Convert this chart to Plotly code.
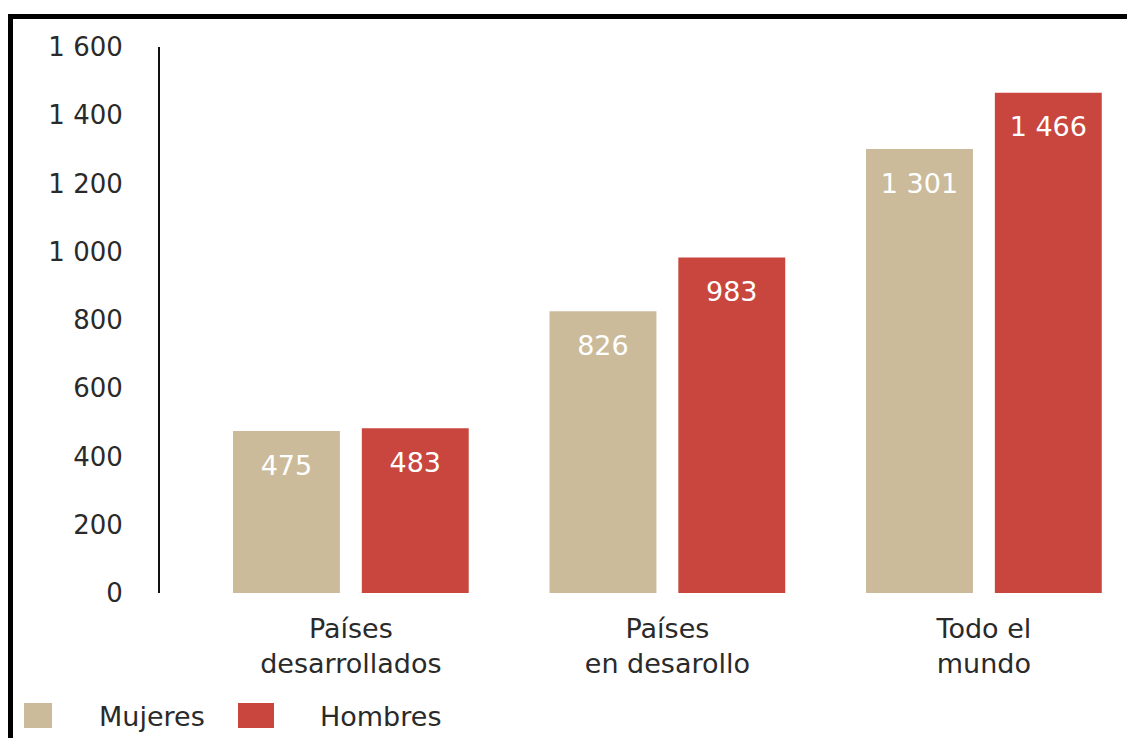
import plotly.graph_objects as go

categories = ["Países<br>desarrollados", "Países<br>en desarollo", "Todo el<br>mundo"]
series_names = ["Mujeres", "Hombres"]
mujeres = [475, 826, 1301]
hombres = [483, 983, 1466]
y_ticks = [0, 200, 400, 600, 800, 1000, 1200, 1400, 1600]

colors = ["#cbbb9b", "#c8463d"]
FONT = "DejaVu Sans"
TXT = "#2a2a2a"

OFF = 8  # page body margin
W, H = 1135 - OFF, 738 - OFF
L, R, T, B = 160 - OFF, 15, 47 - OFF, 730 - (593 - OFF)
pw, ph = W - L - R, H - T - B
BARGAP = 0.186

def px(x):
    return (x - OFF - L) / pw

def py(y):
    return (H - B - (y - OFF)) / ph

fig = go.Figure()
xs = list(range(len(categories)))
for name, vals, col in zip(series_names, [mujeres, hombres], colors):
    fig.add_trace(go.Bar(
        x=xs, y=vals, name=name, offsetgroup=name,
        marker=dict(color=col, line=dict(width=0)),
        showlegend=False, hoverinfo="skip",
    ))
for name, vals in zip(series_names, [mujeres, hombres]):
    fig.add_trace(go.Scatter(
        x=xs, y=vals, name=name + " valores", offsetgroup=name,
        mode="markers+text", texttemplate="%{y:,}", textposition="bottom center",
        marker=dict(size=36, color="rgba(0,0,0,0)"),
        textfont=dict(family=FONT, size=27, color="white"),
        showlegend=False, hoverinfo="skip",
    ))

fig.update_layout(
    width=W, height=H,
    margin=dict(l=L, r=R, t=T, b=B, pad=0),
    paper_bgcolor="white", plot_bgcolor="white",
    barmode="group", bargap=BARGAP, bargroupgap=0.17,
    scattermode="group", scattergap=BARGAP,
    separators=", ",
    font=dict(family=FONT, size=26, color=TXT),
    xaxis=dict(
        tickvals=xs, ticktext=categories,
        range=[-0.603, 2.43], showline=False, showgrid=False, zeroline=False,
        ticks="", ticklabelstandoff=17,
        tickfont=dict(family=FONT, size=27, color=TXT),
    ),
    yaxis=dict(
        range=[0, 1600], tickvals=y_ticks, tickformat=",",
        showline=True, linecolor="#111111", linewidth=2,
        showgrid=False, zeroline=False, ticks="", ticklabelstandoff=30,
        tickfont=dict(family=FONT, size=26, color=TXT),
    ),
)

# Frame lines (top and left), as in the reference
fig.add_shape(type="line", xref="paper", yref="paper",
              x0=px(7), x1=px(1140), y0=py(16.5), y1=py(16.5),
              line=dict(color="black", width=5))
fig.add_shape(type="line", xref="paper", yref="paper",
              x0=px(10), x1=px(10), y0=py(14), y1=py(745),
              line=dict(color="black", width=6))

# Manual legend
legend_swatches = [(24, 52), (238, 274)]
legend_text_x = [97, 318]
for name, col, (x0, x1), tx in zip(series_names, colors, legend_swatches, legend_text_x):
    fig.add_shape(type="rect", xref="paper", yref="paper",
                  x0=px(x0), x1=px(x1), y0=py(728), y1=py(703),
                  fillcolor=col, line=dict(width=0))
    fig.add_annotation(text=name, xref="paper", yref="paper",
                       x=px(tx), y=py(716), xanchor="left", yanchor="middle",
                       showarrow=False,
                       font=dict(family=FONT, size=27, color=TXT))

fig.write_html("out.html")
